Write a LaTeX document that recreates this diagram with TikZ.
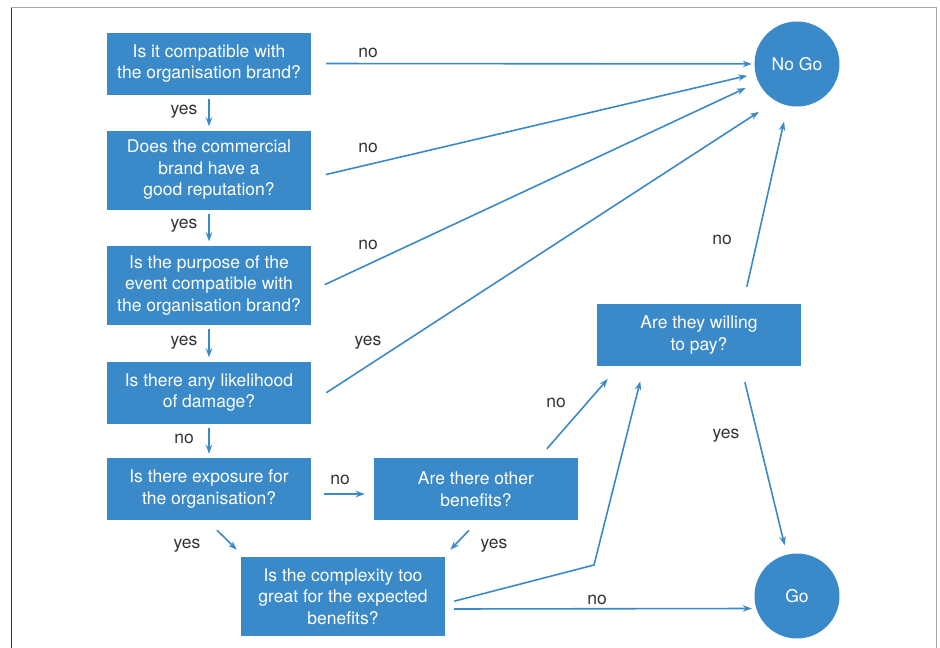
\documentclass[tikz,border=0pt]{standalone}
\usepackage{fontspec}
\setmainfont{TeX Gyre Heros}
\usetikzlibrary{arrows.meta}
\definecolor{qblue}{HTML}{3A89C9}
\definecolor{answergrey}{HTML}{333333}
\begin{document}
\begin{tikzpicture}[x=1pt,y=-1pt,
		question/.style={fill=qblue,text=white,align=center,inner sep=0pt,minimum width=204pt,minimum height=62pt,font=\fontsize{17.5}{21.5}\selectfont},
		tall/.style={minimum height=79pt},
		ending/.style={circle,fill=qblue,text=white,inner sep=0pt,minimum size=85pt,font=\fontsize{17.5}{21.5}\selectfont},
		answer/.style={text=answergrey,yshift=-3pt,font=\fontsize{17.5}{21.5}\selectfont},
		flow/.style={draw=qblue,line width=1.6pt,-{Stealth[length=9pt,width=6.5pt]}}]
		\useasboundingbox (0,0) rectangle (940,648);
		% frame
			\draw [gray!70,line width=1pt] (11.5,648) -- (11.5,7.5) -- (936.5,7.5) -- (936.5,648);
			\draw [black!80,line width=1pt] (11.5,648) -- (11.5,8);
		% questions
			\node [question] (brand) at (209,63.5) {Is it compatible with\\the organisation brand?};
			\node [question,tall] (reputation) at (209,170) {Does the commercial\\brand have a\\good reputation?};
			\node [question,tall] (purpose) at (209,285) {Is the purpose of the\\event compatible with\\the organisation brand?};
			\node [question] (damage) at (209,392.5) {Is there any likelihood\\of damage?};
			\node [question] (exposure) at (209,489) {Is there exposure for\\the organisation?};
			\node [question] (benefits) at (476,489) {Are there other\\benefits?};
			\node [question,tall] (complexity) at (343,596.5) {Is the complexity too\\great for the expected\\benefits?};
			\node [question] (pay) at (699,335) {Are they willing\\to pay?};
		% endings
			\node [ending] (nogo) at (797,64) {No Go};
			\node [ending] (go) at (797,596) {Go};
		% down the column
			\draw [flow,shorten <=4pt,shorten >=4pt] (brand.south) -- (reputation.north);
			\draw [flow,shorten <=4pt,shorten >=4pt] (reputation.south) -- (purpose.north);
			\draw [flow,shorten <=4pt,shorten >=4pt] (purpose.south) -- (damage.north);
			\draw [flow,shorten <=4pt,shorten >=4pt] (damage.south) -- (exposure.north);
		% to no go
			\draw [flow,shorten <=15pt,shorten >=2.5pt] (brand.east) -- (nogo);
			\draw [flow,shorten <=15pt,shorten >=8.5pt] ([yshift=-8pt]reputation.east) -- (nogo);
			\draw [flow,shorten <=15pt,shorten >=14pt] ([yshift=-6pt]purpose.east) -- (nogo);
			\draw [flow,shorten <=18pt,shorten >=20pt] ([yshift=-10pt]damage.east) -- (nogo.240);
			\draw [flow,shorten <=17.5pt,shorten >=16.5pt] ([xshift=44pt]pay.north) -- (nogo);
		% lower part
			\draw [flow,shorten <=13pt,shorten >=9pt] ([yshift=-5pt]exposure.east) -- ([yshift=-5pt]benefits.west);
			\draw [flow,shorten <=14pt,shorten >=10pt] ([xshift=-2pt]exposure.south) -- ([xshift=3pt]complexity.north west);
			\draw [flow,shorten <=14pt,shorten >=9.7pt] ([xshift=2.5pt]benefits.south) -- ([xshift=-1.5pt]complexity.north east);
			\draw [flow,shorten <=12pt,shorten >=17pt] ([xshift=63pt]benefits.north) -- ([xshift=-80pt]pay.south);
			\coordinate (bend) at (594,565);
			\draw [flow,shorten <=9.3pt,shorten >=15.5pt] ([yshift=-7pt]complexity.east) -- (bend) -- ([xshift=-55pt]pay.south);
			\draw [flow,shorten <=9pt,shorten >=2.5pt] ([yshift=-12.5pt]complexity.east) -- ([yshift=-12.5pt]go.west);
			\draw [flow,shorten <=16.5pt,shorten >=9.5pt] ([xshift=42pt]pay.south) -- (go);
		% answers
			\node [answer] (a1) at (184,109) {yes};
			\node [answer] (a2) at (184,223) {yes};
			\node [answer] (a3) at (184,340) {yes};
			\node [answer] (a4) at (184,436) {no};
			\node [answer] (a5) at (368,50) {no};
			\node [answer] (a6) at (368,145) {no};
			\node [answer] (a7) at (368,242) {no};
			\node [answer] (a8) at (368,340) {yes};
			\node [answer] (a9) at (340,477) {no};
			\node [answer] (a10) at (187,543) {yes};
			\node [answer] (a11) at (494,543) {yes};
			\node [answer] (a12) at (556,400) {no};
			\node [answer] (a13) at (597,597) {no};
			\node [answer] (a14) at (722,237) {no};
			\node [answer] (a15) at (726,433) {yes};
	\end{tikzpicture}
\end{document}
